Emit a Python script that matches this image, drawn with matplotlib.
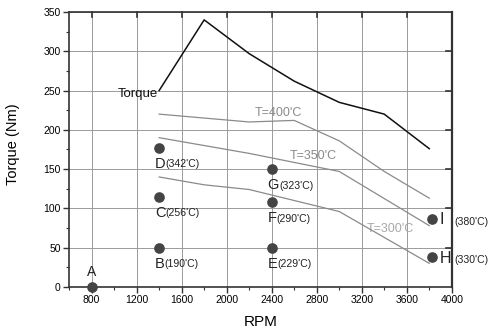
import matplotlib
matplotlib.use("Agg")
import matplotlib.pyplot as plt
from matplotlib.ticker import MultipleLocator

plt.rcParams['font.family'] = ['Liberation Sans', 'DejaVu Sans']

# Data
torque_rpm = [1400, 1800, 2200, 2600, 3000, 3400, 3800]
torque_nm = [250, 340, 297, 262, 235, 220, 176]

t400_rpm = [1400, 2200, 2600, 3000, 3400, 3800]
t400_nm = [220, 210, 212, 186, 147, 113]

t350_rpm = [1400, 2200, 3000, 3800]
t350_nm = [190, 170, 147, 78]

t300_rpm = [1400, 1800, 2200, 3000, 3800]
t300_nm = [140, 130, 124, 96, 30]

pt_names = ['A', 'B', 'C', 'D', 'E', 'F', 'G', 'H', 'I']
pt_rpm = [800, 1400, 1400, 1400, 2400, 2400, 2400, 3820, 3820]
pt_nm = [0, 50, 115, 177, 50, 108, 150, 38, 87]
pt_temp = ['', '(190\'C)', '(256\'C)', '(342\'C)', '(229\'C)', '(290\'C)', '(323\'C)',
           '(330\'C)', '(380\'C)']

fig = plt.figure(figsize=(4.9, 3.34), dpi=100)
ax = fig.add_axes([0.141, 0.141, 0.781, 0.823])

ax.plot(torque_rpm, torque_nm, color='#111111', lw=1.1, zorder=4)
ax.plot(t400_rpm, t400_nm, color='#8a8a8a', lw=0.9, zorder=4)
ax.plot(t350_rpm, t350_nm, color='#8a8a8a', lw=0.9, zorder=4)
ax.plot(t300_rpm, t300_nm, color='#8a8a8a', lw=0.9, zorder=4)

ax.text(1390, 245, 'Torque', ha='right', va='center', fontsize=9.5, color='#111111')
ax.text(2250, 221, "T=400'C", ha='left', va='center', fontsize=9, color='#8a8a8a')
ax.text(2560, 167, "T=350'C", ha='left', va='center', fontsize=9, color='#8a8a8a')
ax.text(3240, 74, "T=300'C", ha='left', va='center', fontsize=9, color='#a8a8a8')

ax.scatter(pt_rpm, pt_nm, s=44, color='#444444', zorder=5, clip_on=False)

for name, x, y, temp in zip(pt_names, pt_rpm, pt_nm, pt_temp):
    if name == 'A':
        ax.annotate(name, (x, y), xytext=(0, 11), textcoords='offset points',
                    ha='center', va='center', fontsize=10, color='#222222')
        continue
    if name in ('H', 'I'):
        ax.annotate(name, (x, y), xytext=(6, -4), textcoords='offset points',
                    ha='left', va='baseline', fontsize=11.5, color='#222222',
                    annotation_clip=False)
        ax.annotate(temp, (x, y), xytext=(16.2, -4.5), textcoords='offset points',
                    ha='left', va='baseline', fontsize=7.6, color='#222222',
                    annotation_clip=False)
    else:
        lt = ax.annotate(name, (x, y), xytext=(-3, -11.5), textcoords='offset points',
                         ha='left', va='center', fontsize=10.5, color='#222222')
        ax.annotate(temp, xy=(1, 0), xycoords=lt, xytext=(0, 1.0),
                    textcoords='offset points', ha='left', va='bottom',
                    fontsize=7.6, color='#222222')

ax.set_xlim(600, 4000)
ax.set_ylim(0, 350)
ax.set_xticks([800, 1200, 1600, 2000, 2400, 2800, 3200, 3600, 4000])
ax.set_yticks([0, 50, 100, 150, 200, 250, 300, 350])
ax.xaxis.set_minor_locator(MultipleLocator(200))
ax.yaxis.set_minor_locator(MultipleLocator(25))
ax.tick_params(axis='both', which='major', direction='out', length=4, width=1,
               color='#333333', labelsize=7.5, pad=2)
ax.tick_params(axis='both', which='minor', direction='out', length=2.5, width=0.8,
               color='#333333')

# mirrored ticks on top and right (inward, major only)
for xv in [800, 1200, 1600, 2000, 2400, 2800, 3200, 3600]:
    ax.plot([xv, xv], [350, 350 - 6.5], color='#333333', lw=1.2, zorder=3, clip_on=False)
for yv in [50, 100, 150, 200, 250, 300]:
    ax.plot([4000, 4000 - 55], [yv, yv], color='#333333', lw=1.2, zorder=3, clip_on=False)

ax.grid(True, which='major', color='#9a9a9a', lw=0.7)
ax.set_axisbelow(True)
for s in ax.spines.values():
    s.set_color('#333333')
    s.set_linewidth(1.2)
ax.spines['right'].set_linewidth(1.6)

ax.set_xlabel('RPM', fontsize=11, labelpad=7)
ax.set_ylabel('Torque (Nm)', fontsize=10.5, labelpad=15)
ax.yaxis.set_label_coords(-0.128, 0.518)

fig.savefig('out.png', dpi=100)
